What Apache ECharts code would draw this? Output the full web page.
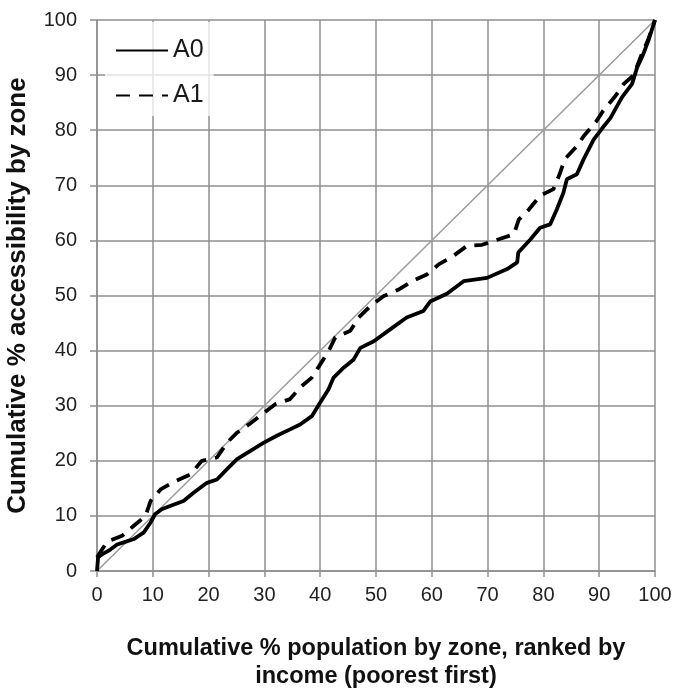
<!DOCTYPE html>
<html>
<head>
<meta charset="utf-8">
<script src="https://cdn.jsdelivr.net/npm/echarts@6/dist/echarts.min.js"></script>
<style>html,body{margin:0;padding:0;background:#fff}#c{width:690px;height:689px}</style>
</head>
<body>
<div id="c"></div>
<script>
const xTicks = [0,10,20,30,40,50,60,70,80,90,100];
const seriesNames = ['A0','A1'];
const a0x = [0,0.2,0.9,2.4,3.6,4.8,6.6,8.4,9.6,10.4,11.6,13.1,15.5,17.3,19.7,21.5,23.3,25.1,27.5,29.9,32.3,34.6,36.4,38.5,40.0,41.5,42.4,44.2,46.0,47.2,49.6,52.6,55.5,58.5,59.7,62.7,65.7,69.9,73.5,75.3,75.5,77.7,79.4,81.2,82.4,83.6,84.2,86.0,87.2,89.0,90.5,92.0,94.1,95.9,96.8,97.9,98.8,100];
const a0y = [0,2.5,3.0,3.9,4.8,5.2,5.8,7.0,8.8,10.3,11.2,11.8,12.7,14.2,16.0,16.6,18.5,20.3,21.8,23.3,24.6,25.7,26.6,28.1,30.6,33.0,35.1,36.9,38.4,40.5,41.7,43.9,46.0,47.2,48.9,50.3,52.6,53.2,54.8,56.0,57.8,60.2,62.3,62.9,65.6,68.7,71.1,72.0,74.7,78.3,80.3,82.2,86.0,88.4,91.4,93.8,96.2,100];
const a1x = [0,1.8,4.5,6.6,8.7,9.6,11.4,14,16.7,18.8,21.5,23.3,25.1,27.5,29.9,32,34.6,36.4,38.5,40,41.5,42.7,45.4,46.9,49,51.4,54.1,56.7,59.1,61.3,63.6,66.3,69,72,74.7,75.6,77.4,79.4,81.8,82.9,83.8,86,87.2,89.4,90.7,92.9,94.4,96.2,97.5,98.8,100];
const a1y = [2.5,5.3,6.4,8.2,10.0,12.7,14.8,16.3,17.5,20,20.6,23.3,25.1,26.8,28.7,30.3,31.2,33.3,35.1,37.5,39.9,42.4,43.6,46,48.1,49.9,51.1,52.7,53.8,55.7,57.0,59.0,59.2,60.2,61.1,63.8,65.6,68.1,69.3,72,74.7,77.1,78.9,81.5,83.5,86.2,88.4,90,93.5,96.5,100];
const diagX = [0,100];
const diagY = [0,100];

const zip = (xs, ys) => xs.map((x, i) => [x, ys[i]]);
const chart = echarts.init(document.getElementById('c'), null, {renderer: 'canvas'});
const font = 'Liberation Sans, Arial, sans-serif';
const gridColor = '#8f8f8f';
chart.setOption({
  animation: false,
  backgroundColor: '#fff',
  grid: {left: 97, right: 35, top: 20, bottom: 118, containLabel: false, outerBoundsMode: 'none'},
  legend: {
    left: 105, top: 22, orient: 'vertical', itemGap: 20,
    itemWidth: 52, itemHeight: 14,
    backgroundColor: 'rgba(255,255,255,0.75)',
    padding: [16, 10, 8, 10],
    data: seriesNames,
    itemStyle: {color: 'rgba(0,0,0,0)', opacity: 0, borderWidth: 0},
    textStyle: {fontFamily: font, fontSize: 25, color: '#1a1a1a'}
  },
  xAxis: {
    type: 'value', min: 0, max: 100, interval: 10,
    name: 'Cumulative % population by zone, ranked by\nincome (poorest first)',
    nameLocation: 'middle', nameGap: 64,
    nameTextStyle: {fontFamily: font, fontSize: 23.5, fontWeight: 'bold', color: '#111', lineHeight: 28},
    axisLine: {lineStyle: {color: gridColor, width: 1.5}},
    axisTick: {show: true, length: 6, lineStyle: {color: gridColor, width: 1.5}},
    axisLabel: {fontFamily: font, fontSize: 20, color: '#222', margin: 14},
    splitLine: {show: true, lineStyle: {color: gridColor, width: 1.5}}
  },
  yAxis: {
    type: 'value', min: 0, max: 100, interval: 10,
    name: 'Cumulative % accessibility by zone',
    nameLocation: 'middle', nameGap: 66,
    nameTextStyle: {fontFamily: font, fontSize: 26, fontWeight: 'bold', color: '#111'},
    axisLine: {show: true, lineStyle: {color: gridColor, width: 1.5}},
    axisTick: {show: true, length: 7, lineStyle: {color: gridColor, width: 1.5}},
    axisLabel: {fontFamily: font, fontSize: 20, color: '#222', margin: 20},
    splitLine: {show: true, lineStyle: {color: gridColor, width: 1.5}}
  },
  series: [
    {
      name: 'diag', type: 'line', data: zip(diagX, diagY), symbol: 'none', silent: true,
      lineStyle: {color: '#9a9a9a', width: 1.5}, z: 2
    },
    {
      name: seriesNames[0], type: 'line', data: zip(a0x, a0y), symbol: 'none',
      lineStyle: {color: '#000', width: 3.8}, itemStyle: {color: '#000'}, z: 3
    },
    {
      name: seriesNames[1], type: 'line', data: zip(a1x, a1y), symbol: 'none',
      lineStyle: {color: '#000', width: 3.8, type: [14, 9]}, itemStyle: {color: '#000'}, z: 3
    }
  ]
});
</script>
</body>
</html>
